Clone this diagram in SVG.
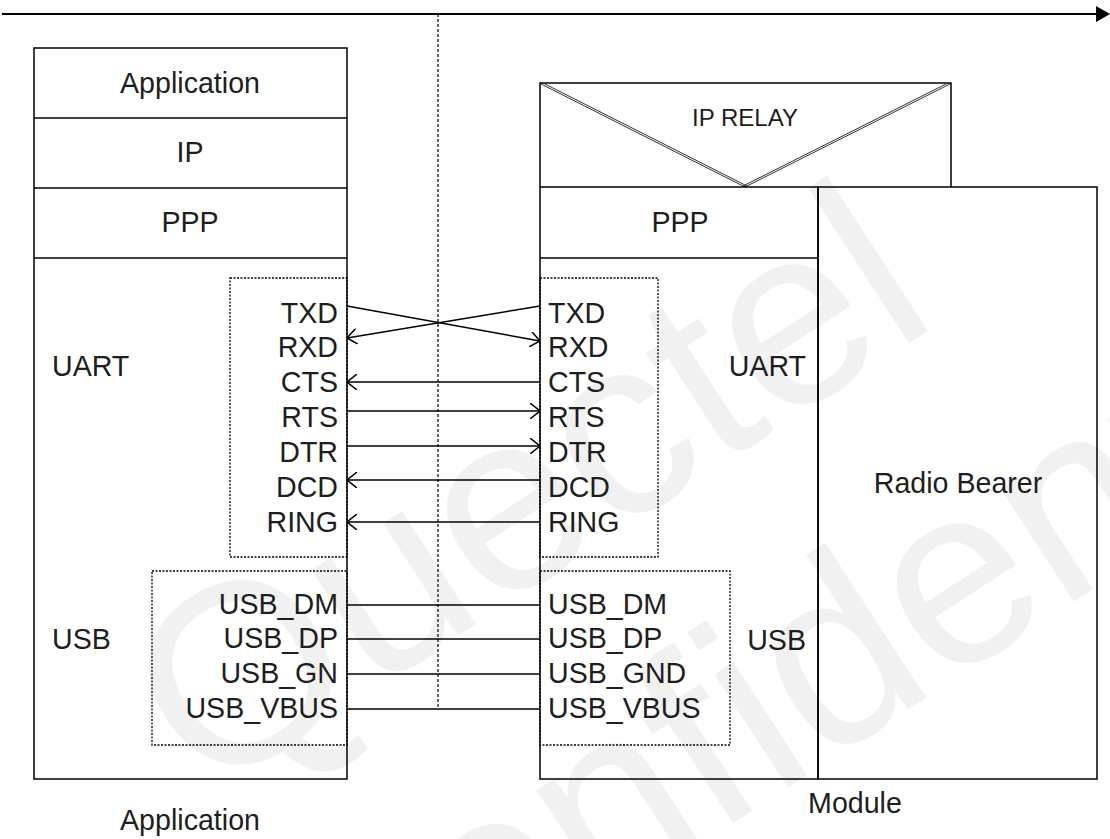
<svg xmlns="http://www.w3.org/2000/svg" width="1110" height="839" viewBox="0 0 1110 839">
<style>
.box{fill:none;stroke:#000;stroke-width:1.5}
.dot{fill:none;stroke:#000;stroke-width:1.3;stroke-dasharray:2,1.5}
.t{font-family:"Liberation Sans",Arial,sans-serif;font-size:28.6px;fill:#1e1e1e}
.m{text-anchor:middle}
.e{text-anchor:end}
.wire{stroke:#000;stroke-width:1.5;fill:none}
.wm{font-family:"Liberation Sans",Arial,sans-serif;font-size:255px;fill:#f1f1f1}
</style>
<defs>
<marker id="open" markerUnits="userSpaceOnUse" viewBox="0 0 10 16" refX="10" refY="8" markerWidth="10" markerHeight="16" orient="auto">
<path d="M0,0 L10,8 L0,16" fill="none" stroke="#000" stroke-width="1.5"/>
</marker>
<marker id="solid" markerUnits="userSpaceOnUse" viewBox="0 0 14 16" refX="0" refY="8" markerWidth="14" markerHeight="16" orient="auto">
<path d="M0,0 L14,8 L0,16 Z" fill="#000"/>
</marker>
</defs>
<rect width="1110" height="839" fill="#fff"/>
<g id="watermark">
<text class="wm" transform="translate(205,800) rotate(-33)">Quectel</text>
<text class="wm" transform="translate(322,1090) rotate(-33)">Confidential</text>
</g>
<g id="application-stack">
<rect class="box" x="34" y="48" width="313" height="731"/>
<line class="box" x1="34" y1="118" x2="347" y2="118"/>
<line class="box" x1="34" y1="188" x2="347" y2="188"/>
<line class="box" x1="34" y1="258" x2="347" y2="258"/>
<text class="t m" x="190" y="93">Application</text>
<text class="t m" x="190" y="162">IP</text>
<text class="t m" x="190" y="232">PPP</text>
<text class="t" x="52" y="376">UART</text>
<text class="t" x="52" y="649">USB</text>
</g>
<g id="app-uart">
<rect class="dot" x="230" y="278" width="117" height="279"/>
<text class="t e" x="338" y="323">TXD</text>
<text class="t e" x="338" y="357">RXD</text>
<text class="t e" x="338" y="392">CTS</text>
<text class="t e" x="338" y="427">RTS</text>
<text class="t e" x="338" y="462">DTR</text>
<text class="t e" x="338" y="497">DCD</text>
<text class="t e" x="338" y="532">RING</text>
</g>
<g id="app-usb">
<rect class="dot" x="152" y="571" width="195" height="174"/>
<text class="t e" x="338" y="614">USB_DM</text>
<text class="t e" x="338" y="648">USB_DP</text>
<text class="t e" x="338" y="683">USB_GN</text>
<text class="t e" x="338" y="718">USB_VBUS</text>
</g>
<g id="ip-relay">
<polyline class="box" points="540,187 540,83 951,83 951,187"/>
<line x1="541" y1="84" x2="745" y2="187" stroke="#333" stroke-width="1"/>
<line x1="543" y1="83" x2="747" y2="186" stroke="#333" stroke-width="1"/>
<line x1="950" y1="84" x2="745" y2="187" stroke="#333" stroke-width="1"/>
<line x1="948" y1="83" x2="743" y2="186" stroke="#333" stroke-width="1"/>
<text class="t m" x="745" y="126" style="font-size:24px">IP RELAY</text>
</g>
<g id="module-stack">
<rect class="box" x="540" y="187" width="278" height="592"/>
<line class="box" x1="540" y1="258" x2="818" y2="258"/>
<text class="t m" x="680" y="232">PPP</text>
<text class="t e" x="806" y="376">UART</text>
<text class="t e" x="806" y="650">USB</text>
</g>
<g id="radio-bearer">
<rect class="box" x="818" y="187" width="279" height="592"/>
<text class="t m" x="958" y="493">Radio Bearer</text>
</g>
<g id="module-uart">
<rect class="dot" x="540" y="278" width="118" height="279"/>
<text class="t" x="548" y="323">TXD</text>
<text class="t" x="548" y="357">RXD</text>
<text class="t" x="548" y="392">CTS</text>
<text class="t" x="548" y="427">RTS</text>
<text class="t" x="548" y="462">DTR</text>
<text class="t" x="548" y="497">DCD</text>
<text class="t" x="548" y="532">RING</text>
</g>
<g id="module-usb">
<rect class="dot" x="540" y="571" width="190" height="174"/>
<text class="t" x="548" y="614">USB_DM</text>
<text class="t" x="548" y="648">USB_DP</text>
<text class="t" x="548" y="683">USB_GND</text>
<text class="t" x="548" y="718">USB_VBUS</text>
</g>
<g id="captions">
<text class="t m" x="190" y="830">Application</text>
<text class="t m" x="855" y="813">Module</text>
</g>
<g id="connectors">
<line x1="2" y1="14" x2="1096" y2="14" stroke="#000" stroke-width="2.2" marker-end="url(#solid)"/>
<line x1="438" y1="14" x2="438" y2="709" stroke="#000" stroke-width="1.2" stroke-dasharray="3,2"/>
<line class="wire" x1="347" y1="306" x2="540" y2="341" marker-end="url(#open)"/>
<line class="wire" x1="540" y1="306" x2="347" y2="338" marker-end="url(#open)"/>
<line class="wire" x1="540" y1="382" x2="347" y2="382" marker-end="url(#open)"/>
<line class="wire" x1="347" y1="411" x2="540" y2="411" marker-end="url(#open)"/>
<line class="wire" x1="347" y1="446" x2="540" y2="446" marker-end="url(#open)"/>
<line class="wire" x1="540" y1="480" x2="347" y2="480" marker-end="url(#open)"/>
<line class="wire" x1="540" y1="522" x2="347" y2="522" marker-end="url(#open)"/>
<line class="wire" x1="347" y1="605" x2="540" y2="605"/>
<line class="wire" x1="347" y1="639" x2="540" y2="639"/>
<line class="wire" x1="347" y1="674" x2="540" y2="674"/>
<line class="wire" x1="347" y1="709" x2="540" y2="709"/>
</g>
</svg>
